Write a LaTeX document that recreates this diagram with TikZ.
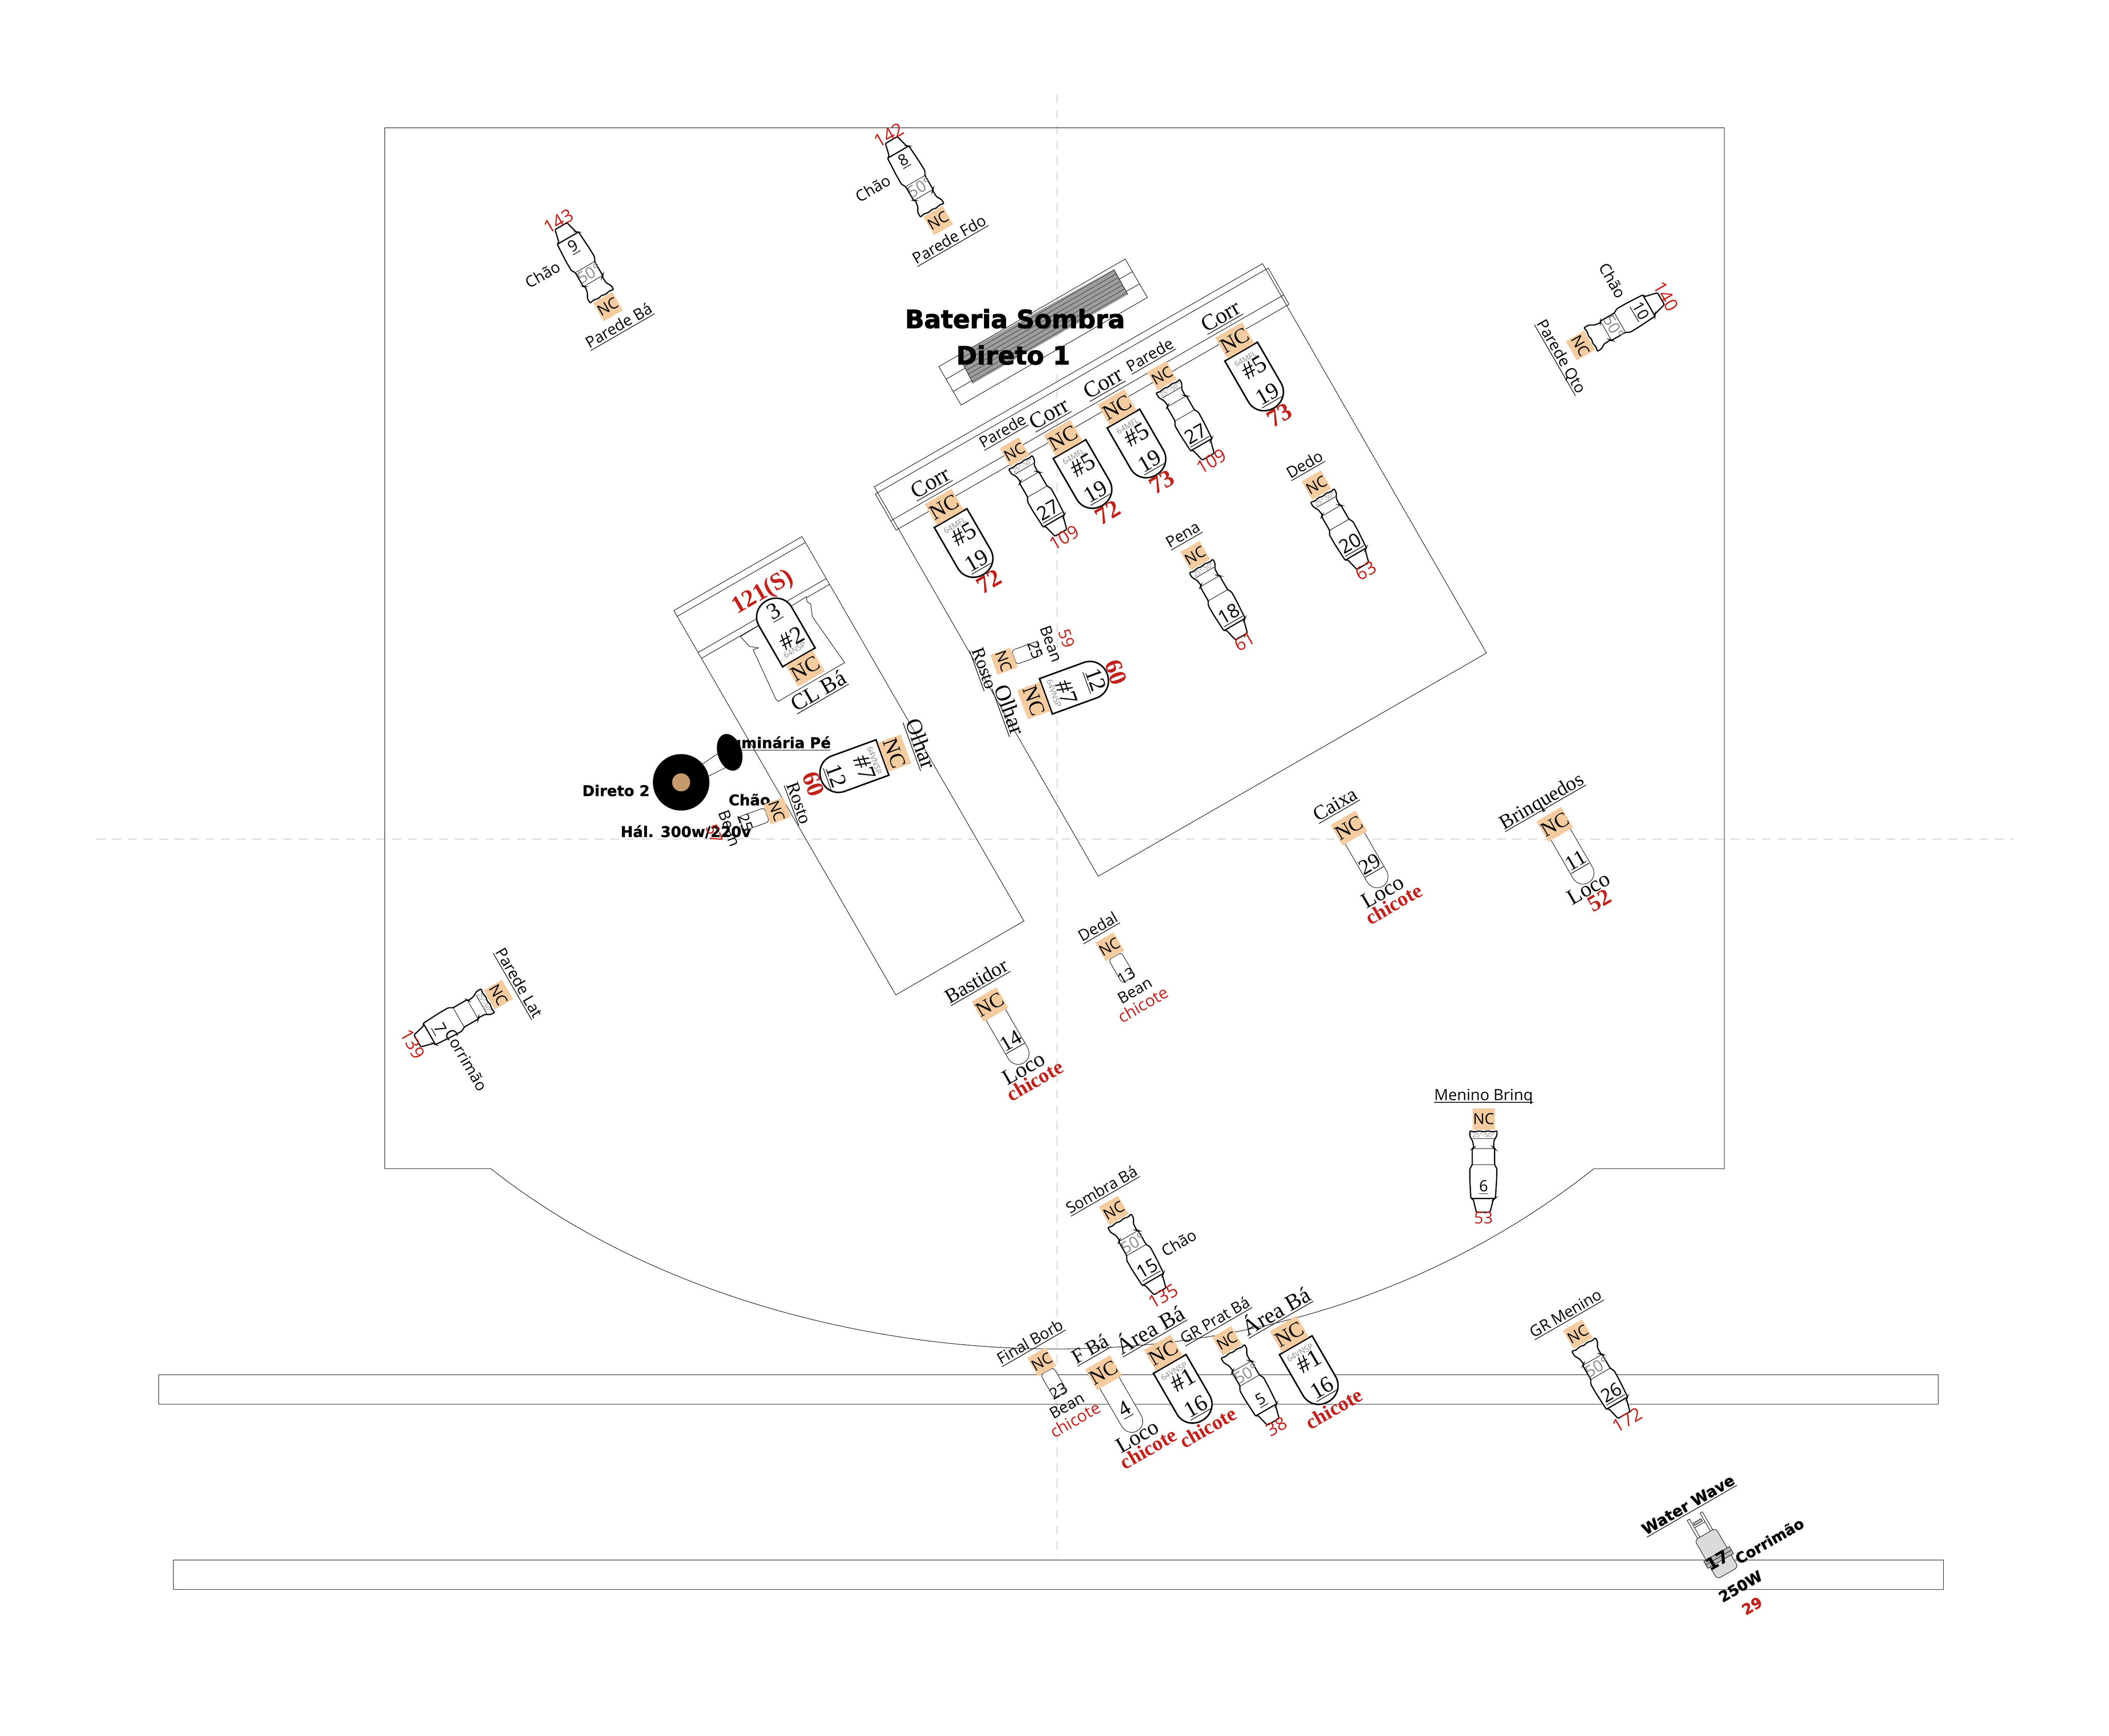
\documentclass[tikz,border=0pt]{standalone}
\usepackage{fontspec}
\setmainfont{Liberation Serif}
\setsansfont{Open Sans}
\newfontfamily\plotbold{DejaVu Sans}[BoldFeatures={FakeBold=1.2}]
\newfontfamily\plotheavy{DejaVu Sans}[BoldFeatures={FakeBold=2.5}]
\definecolor{ncorange}{HTML}{F5CBA0}
\definecolor{plotred}{HTML}{C1211B}
\definecolor{lensgray}{HTML}{8C8C8C}
\definecolor{lamptan}{HTML}{C49A6C}
\newcommand{\sz}[1]{\fontsize{#1}{#1}\selectfont}
\newcommand{\rostofont}{\rmfamily\sz{12}}
\newcommand{\ulabel}[1]{\setbox0=\hbox{#1}\dp0=0pt\underline{\box0}}
\tikzset{
  thinline/.style={line width=.3pt},
  centreline/.style={line width=.3pt,draw=black!30,dash pattern=on 5.7pt off 4.5pt},
  nctext/.style={fill=ncorange,inner sep=0pt,text=black},
  ncbig/.style={nctext,minimum width=20.2pt,minimum height=16pt,font=\sz{14}},
  ncmid/.style={nctext,minimum width=18.2pt,minimum height=15.5pt,font=\sz{13.5}},
  ncsmall/.style={nctext,minimum width=14.5pt,minimum height=13.9pt,font=\sffamily\sz{10}},
  ncbean/.style={nctext,minimum width=12.8pt,minimum height=14pt,font=\sffamily\sz{10}},
  lblserif/.style={inner sep=0pt,font=\sz{14.8}},
  lblsans/.style={inner sep=0pt,font=\sffamily\sz{10.2}},
  numserif/.style={inner sep=0pt,font=\sz{15}},
  numsans/.style={inner sep=0pt,font=\sffamily\sz{10.2}},
  lampno/.style={inner sep=0pt,font=\sz{16}},
  lenstext/.style={inner sep=0pt,text=lensgray,font=\sffamily\sz{5.2}},
  bandwide/.style={inner sep=0pt,text=lensgray,font=\sffamily\sz{10.5}},
  bandnarrow/.style={inner sep=0pt,text=lensgray,font=\sffamily\sz{4.2}},
  redbold/.style={inner sep=0pt,text=plotred,font=\bfseries\sz{13.5}},
  redsans/.style={inner sep=0pt,text=plotred,font=\sffamily\sz{11.8}},
  plottext/.style={inner sep=0pt,font=\plotbold\bfseries\sz{9.7}},
  plottitle/.style={inner sep=0pt,font=\plotheavy\bfseries\sz{16.4}},
}
% name, position, rotation, direction, label, lamp, lens, channel, red number
\newcommand{\fxpar}[9]{%
  \begin{scope}[shift={#2},rotate=#3,transform shape]
    \begin{scope}[yscale=#4]
      \draw[line width=1pt,fill=white] (-14,9.5) -- (14,9.5) -- (14,44.5) .. controls (14,52) and (8,58) .. (0,58) .. controls (-8,58) and (-14,52) .. (-14,44.5) -- cycle;
    \end{scope}
    \node[ncbig] (#1nc) at (0,0) {NC};
    \node[lblserif] (#1lbl) at (0,-20*#4) {\ulabel{#5}};
    \node[lenstext] (#1lens) at (0,15.8*#4) {#7};
    \node[lampno] (#1lamp) at (2.5,24.7*#4) {\##6};
    \node[numserif] (#1num) at (1,47.5*#4) {\ulabel{#8}};
    \node[redbold] (#1red) at (1,64.5*#4) {#9};
  \end{scope}}
% name, position, rotation, direction, label, number, red number, side text, band (0 none, 1 wide, 2 narrow)
\newcommand{\fxprofile}[9]{%
  \begin{scope}[shift={#2},rotate=#3,transform shape]
    \begin{scope}[yscale=#4]
      \draw[line width=.8pt,fill=white,rounded corners=.8pt] (-10.2,12.9) -- (-10.2,8.8) -- (-7,9.6) -- (-3,8.8) -- (0,9.6) -- (3,8.8) -- (7,9.6) -- (10,8.8) -- (9.9,12.4) -- (7.7,16) -- (7.5,21.5) -- (8.2,22) -- (8.2,34) -- (9.9,37) -- (9.7,45) -- (8.8,59) -- (7.3,59.7) -- (4.8,69.3) -- (-5.4,69.3) -- (-7.7,59.7) -- (-9.5,59) -- (-10.2,45) -- (-10.2,37) -- (-8.4,34) -- (-8.4,22) -- (-7.3,21.5) -- (-8,16.7) -- cycle;
      \draw[thinline] (-8.2,22) -- (8.2,22) (-8.4,34) -- (8.2,34);
      \draw[line width=.8pt] (-9.5,59) -- (8.8,59);
      \ifnum#9=2 \draw[thinline] (-8,14.5) -- (8,14.5); \fi
    \end{scope}
    \node[ncsmall] (#1nc) at (0,0) {NC};
    \node[lblsans] (#1lbl) at (0,-17*#4) {\ulabel{#5}};
    \node[numsans] (#1num) at (0,51*#4) {\ulabel{#6}};
    \node[redsans] (#1red) at (0,73.5*#4) {#7};
    \if\relax\detokenize{#8}\relax\else
      \node[lblsans] (#1side) at (30*#4,45*#4) {#8};
    \fi
    \ifcase#9\or
      \node[bandwide] (#1band) at (0.5,28.3*#4) {50°};
    \or
      \node[bandnarrow] (#1band) at (0,12*#4) {25°-50°};
    \fi
  \end{scope}}
% name, position, rotation, label, number, red word
\newcommand{\fxloco}[6]{%
  \begin{scope}[shift={#2},rotate=#3,transform shape]
    \draw[thinline,fill=white] (-8.3,8) -- (8.3,8) -- (8.3,41) .. controls (8.3,46) and (5,50) .. (0,50) .. controls (-5,50) and (-8.3,46) .. (-8.3,41) -- cycle;
    \node[ncmid] (#1nc) at (0,0) {NC};
    \node[lblserif,font=\sz{13.3}] (#1lbl) at (0,-19.5) {\ulabel{#4}};
    \node[numserif,font=\sz{14}] (#1num) at (0,32) {\ulabel{#5}};
    \node[lblserif,font=\sz{14.4}] (#1loco) at (-2,53.5) {Loco};
    \node[redbold] (#1red) at (.5,65.5) {#6};
  \end{scope}}
% name, position, rotation, direction, label, number, below text, red word
\newcommand{\fxbean}[8]{%
  \begin{scope}[shift={#2},rotate=#3,transform shape]
    \begin{scope}[yscale=#4]
      \draw[thinline,fill=white,rounded corners=2pt] (-5.5,8) -- (5.5,8) -- (5.5,28) -- (-5.5,28) -- cycle;
    \end{scope}
    \node[ncbean] (#1nc) at (0,0) {NC};
    \node[lblsans] (#1lbl) at (0,-16.5*#4) {\ulabel{#5}};
    \node[numsans] (#1num) at (0,25*#4) {#6};
    \node[lblsans] (#1txt) at (0,37.5*#4) {#7};
    \node[redsans,font=\sffamily\sz{10.8}] (#1red) at (0,49.5*#4) {#8};
  \end{scope}}
\begin{document}
\begin{tikzpicture}[x=.030989cm,y=-.030989cm]
  \useasboundingbox (0,0) rectangle (1568,1290.8);
  % centre lines
  \draw[centreline] (786,70) -- (786,1158);
  \draw[centreline] (72,624) -- (1497,624);
  % stage and bars
  \draw[thinline] (365,869) -- (286,869) -- (286,95) -- (1282,95) -- (1282,869) -- (1185,869) .. controls (1070,960) and (930,1003) .. (785,1003) .. controls (640,1003) and (480,960) .. (365,869);
  \draw[thinline] (118,1022) rectangle (1441,1044);
  \draw[thinline] (129,1160) rectangle (1445,1182);
  % platform on the right
  \begin{scope}[shift={(650,362)},rotate=29.9]
    \draw[thinline] (0,0) rectangle (333,334);
    \draw[thinline] (-2,5) rectangle (335,36);
    \draw[thinline] (-2,28) -- (335,28);
  \end{scope}
  % platform on the left
  \begin{scope}[shift={(501,454)},rotate=30]
    \draw[thinline] (0,0) rectangle (110,330);
    \draw[thinline] (0,5) -- (110,5) (0,36) -- (110,36) (0,41) -- (110,41);
  \end{scope}
  \draw[thinline,fill=white] (559.9,483.1) -- (576.7,519.6) -- (578.6,521.5) -- (625.4,494.2) -- (628,492.8) -- (604,458.5) -- (602.7,449.2) -- (600,447.4) -- (599.5,443.7) -- (591,449) -- (561,467) -- (550.5,473.3) -- (557.2,480.7) -- (563.9,481.7) -- cycle;
  % shadow battery
  \begin{scope}[shift={(698,272.6)},rotate=30]
    \draw[thinline] (0,0) rectangle (160,33);
    \draw[thinline] (0,10.8) -- (160,10.8) (0,21.3) -- (160,21.3);
    \fill[black!38] (16.9,0) -- (148.8,2.4) -- (148.5,23.8) -- (15.8,23.5) -- cycle;
    \draw[thinline] (16.9,0) -- (15.8,23.5) (148.8,2.4) -- (148.5,23.8);
    \foreach \i in {0,...,6} {
      \draw[line width=.25pt,black!85] (16,3+3.2*\i) -- (148.6,3+3.2*\i);
    }
  \end{scope}
  \node[plottitle] (batName) at (754.6,237) {Bateria Sombra};
  \node[plottitle] (batLine) at (753.3,264) {Direto 1};
  % luminaire
  \node[plottext] (lumName) at (577,553) {\ulabel{Luminária Pé}};
  \node[plottext] (lumDir) at (458,587.8) {Direto 2};
  \node[plottext] (lumChao) at (557.2,594.6) {Chão};
  \draw[thinline] (521,569) -- (537,558) (527,577) -- (543,569);
  \fill[black] (506.4,581.7) circle[radius=21];
  \fill[lamptan] (506.4,581.7) circle[radius=6.7];
  \fill[black,rotate around={17:(542.5,559.4)}] (542.5,559.4) ellipse[x radius=9,y radius=14];
  \node[plottext] (lumHal) at (509.9,618.5) {Hál. 300w/220v};
  % fixtures
  \fxpar{corrA}{(702,377)}{30}{1}{Corr}{5}{64MFL}{19}{\sz{16}72}
  \fxpar{corrB}{(790.4,325.7)}{30}{1}{Corr}{5}{64MFL}{19}{\sz{16}72}
  \fxpar{corrC}{(830.5,303)}{30}{1}{Corr}{5}{64MFL}{19}{\sz{16}73}
  \fxpar{corrD}{(918,253.2)}{30}{1}{Corr}{5}{64MFL}{19}{\sz{16}73}
  \fxpar{olharA}{(768.7,521)}{-70}{-1}{Olhar}{7}{64VNSP}{12}{\sz{16}60}
  \fxpar{olharB}{(665,560)}{-70}{1}{Olhar}{7}{64VNSP}{12}{\sz{16}60}
  \fxpar{clba}{(598.7,497)}{30}{-1}{CL Bá}{2}{64NSP}{3}{\sz{16}121(S)}
  \fxpar{areaA}{(864.9,1005.9)}{30}{1}{Área Bá}{1}{64VNSP}{16}{chicote}
  \fxpar{areaB}{(958.6,992)}{30}{1}{Área Bá}{1}{64VNSP}{16}{chicote}
  \fxprofile{parA}{(754.3,336)}{30}{1}{Parede}{\sz{12.5}27}{109}{}{2}
  \fxprofile{parB}{(863.9,279.4)}{30}{1}{Parede}{\sz{12.5}27}{109}{}{2}
  \fxprofile{pena}{(888.6,413.1)}{30}{1}{Pena}{\sz{12.5}18}{61}{}{2}
  \fxprofile{dedo}{(978.8,360.7)}{30}{1}{Dedo}{\sz{12.5}20}{63}{}{2}
  \fxprofile{fdo}{(697.6,164)}{30}{-1}{Parede Fdo}{8}{142}{Chão}{1}
  \fxprofile{paredeBa}{(452,228)}{30}{-1}{Parede Bá}{9}{143}{Chão}{1}
  \fxprofile{qto}{(1175,257)}{-60}{-1}{Parede Qto}{10}{140}{Chão}{1}
  \fxprofile{lat}{(370.5,739.6)}{-60}{1}{Parede Lat}{7}{139}{Corrimão}{2}
  \fxprofile{sombra}{(828,900)}{30}{1}{Sombra Bá}{\sz{12}15}{135}{Chão}{1}
  \fxprofile{brinq}{(1103,832)}{0}{1}{Menino Brinq}{6}{\sz{10.6}53}{}{2}
  \fxprofile{prat}{(912.2,997)}{30}{1}{GR Prat Bá}{5}{38}{}{1}
  \fxprofile{menino}{(1173,992)}{30}{1}{GR Menino}{\sz{12}26}{172}{}{1}
  \fxloco{caixa}{(1002.9,615.7)}{30}{Caixa}{29}{chicote}
  \fxloco{brinquedos}{(1156,613)}{30}{Brinquedos}{11}{\sz{15}52}
  \fxloco{bastidor}{(736,747)}{30}{Bastidor}{14}{chicote}
  \fxloco{fba}{(820.5,1020.6)}{30}{F Bá}{4}{chicote}
  \fxbean{dedal}{(825,704)}{30}{1}{Dedal}{13}{Bean}{chicote}
  \fxbean{borb}{(774.5,1012.6)}{30}{1}{Final Borb}{23}{Bean}{chicote}
  \fxbean{rostoA}{(746.4,491.6)}{-70}{-1}{\rostofont Rosto}{25}{Bean}{59}
  \fxbean{rostoB}{(577.6,603)}{-70}{1}{\rostofont Rosto}{25}{Bean}{57}
  % water wave
  \begin{scope}[shift={(1276,1155)},rotate=30,transform shape]
    \draw[thinline,fill=white] (-6.5,-32) rectangle (-4.5,-16);
    \draw[thinline,fill=white] (4.5,-32) rectangle (6.5,-16);
    \draw[thinline,fill=black!25] (-3.5,-28) rectangle (3,-26);
    \draw[thinline] (-4.5,-24.5) -- (4.5,-24.5);
    \draw[thinline,fill=black!14,rounded corners=2.5pt] (-9,-16.5) rectangle (9,17);
    \draw[thinline,fill=black!28] (-11,0.5) rectangle (11,6.5);
    \draw[thinline] (-11,3.5) -- (11,3.5);
    \node[plottext,font=\plotbold\bfseries\sz{10}] (wwName) at (0,-40.8) {\ulabel{Water Wave}};
    \node[plottext,font=\plotbold\bfseries\sz{11}] (wwNum) at (-2,4.6) {17};
    \node[plottext] (wwSide) at (38.9,11.6) {Corrimão};
    \node[plottext] (wwPow) at (3.3,30.2) {250W};
    \node[plottext,text=plotred] (wwRed) at (3.5,47) {29};
  \end{scope}
\end{tikzpicture}
\end{document}
